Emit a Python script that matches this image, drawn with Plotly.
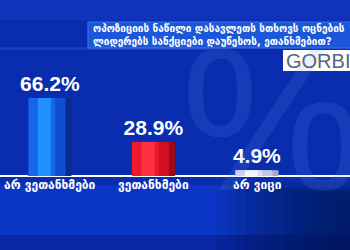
import plotly.graph_objects as go

categories = ["არ ვეთანხმები", "ვეთანხმები", "არ ვიცი"]
values = [66.2, 28.9, 4.9]
value_labels = ["66.2%", "28.9%", "4.9%"]
title_lines = ["ოპოზიციის ნაწილი დასავლეთს სთხოვს ოცნების",
               "ლიდერებს სანქციები დაუწესოს, ეთანხმებით?"]
logo_text = "GORBI"

# bar gradient layers: (relative start, relative width, colors per bar)
W = 0.415
layers = [
    (0.00, 1.00, ["#0a2a8c", "#9a0a18", "#a8a8d0"]),
    (0.00, 0.86, ["#0f4fcf", "#d0101f", "#c4c4e6"]),
    (0.00, 0.62, ["#1666ea", "#f01a2c", "#dcdcf4"]),
    (0.22, 0.30, ["#2291ff", "#ff3040", "#f4f4ff"]),
]

fig = go.Figure()
xs = list(range(len(categories)))
for i, (start, frac, cols) in enumerate(layers):
    fig.add_trace(go.Bar(
        x=xs, y=values,
        width=W * frac,
        offset=-W / 2 + start * W,
        marker=dict(color=cols, line=dict(width=0)),
        text=value_labels if i == 0 else None,
        textposition="outside" if i == 0 else "none",
        constraintext="none",
        textfont=dict(family="Liberation Sans, Arial", size=21, color="white", weight="bold"),
        cliponaxis=False,
        hoverinfo="skip",
        showlegend=False,
    ))

shapes = [
    dict(type="rect", xref="paper", yref="paper", x0=0, x1=1, y0=0.92, y1=1,
         fillcolor="#1538c4", opacity=0.6, line_width=0, layer="below"),
    dict(type="rect", xref="paper", yref="paper", x0=0, x1=0.6, y0=0.80, y1=0.812,
         fillcolor="#2a50d8", opacity=0.45, line_width=0, layer="below"),
    dict(type="rect", xref="paper", yref="paper", x0=0, x1=1, y0=0.06, y1=0.26,
         fillcolor="#0d3fd6", opacity=0.6, line_width=0, layer="below"),
    dict(type="rect", xref="paper", yref="paper", x0=0, x1=1, y0=0, y1=0.06,
         fillcolor="#0824a0", opacity=0.7, line_width=0, layer="below"),
]
# soft darkening toward the bottom-right corner
n = 14
for k in range(n):
    x0 = 0.62 + k * (0.38 / n)
    shapes.append(dict(type="rect", xref="paper", yref="paper", x0=x0, x1=1,
                       y0=0, y1=0.27 - k * 0.004,
                       fillcolor="#041450", opacity=0.09, line_width=0, layer="below"))
shapes += [
    dict(type="rect", xref="paper", yref="paper", x0=88 / 350, x1=1.01,
         y0=1 - 48 / 250, y1=1 - 22 / 250,
         fillcolor="#1b57d8", line=dict(color="#3a78ee", width=1)),
    dict(type="rect", xref="paper", yref="paper", x0=283 / 350, x1=1.01,
         y0=1 - 71 / 250, y1=1 - 50 / 250,
         fillcolor="white", line_width=0),
]

annotations = [
    dict(text="%", xref="paper", yref="paper", x=272 / 350, y=1 - 118 / 250,
         xanchor="center", yanchor="middle", showarrow=False,
         font=dict(family="Liberation Sans, Arial", size=205, color="rgba(110,150,255,0.15)")),
    dict(text="<br>".join(title_lines), xref="paper", yref="paper",
         x=91 / 350, y=1 - 35 / 250, xanchor="left", yanchor="middle", align="left",
         showarrow=False,
         font=dict(family="DejaVu Sans", size=10, color="white", weight="bold")),
    dict(text=logo_text, xref="paper", yref="paper", x=284 / 350, y=1 - 60.5 / 250,
         xanchor="left", yanchor="middle", showarrow=False,
         font=dict(family="Liberation Sans, Arial", size=20, color="#5b6478")),
]
for i, c in enumerate(categories):
    annotations.append(dict(text=c, x=i, y=0, xref="x", yref="y",
                            xanchor="center", yanchor="top", yshift=0,
                            showarrow=False,
                            font=dict(family="DejaVu Sans", size=12, color="white", weight="bold")))

px_per_unit = 103.5
y_scale = 1.18
fig.update_layout(
    width=350, height=250,
    margin=dict(l=0, r=0, t=0, b=0),
    paper_bgcolor="#0a2cae",
    plot_bgcolor="rgba(0,0,0,0)",
    barmode="overlay",
    showlegend=False,
    xaxis=dict(range=[-50 / px_per_unit, 300 / px_per_unit], visible=False, fixedrange=True),
    yaxis=dict(range=[-74 / y_scale, 176 / y_scale], showgrid=False, showticklabels=False,
               zeroline=True, zerolinecolor="white", zerolinewidth=1.5, fixedrange=True),
    shapes=shapes,
    annotations=annotations,
)

fig.write_html("out.html", config={"displayModeBar": False})
